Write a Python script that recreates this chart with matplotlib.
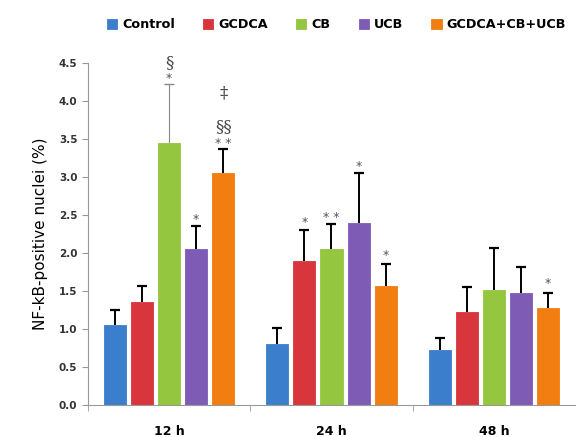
import numpy as np
import matplotlib
matplotlib.use("Agg")
import matplotlib.pyplot as plt

grupos = ["12 h", "24 h", "48 h"]
series = ["Control", "GCDCA", "CB", "UCB", "GCDCA+CB+UCB"]
cores = ["#3b7fcc", "#d8353d", "#94c640", "#7e5cb6", "#f27d10"]

# medias por serie (12h, 24h, 48h)
medias = [
    [1.05, 0.80, 0.72],
    [1.35, 1.90, 1.22],
    [3.45, 2.05, 1.52],
    [2.05, 2.40, 1.48],
    [3.05, 1.57, 1.28],
]
# erro (so para cima)
erros = [
    [0.20, 0.22, 0.16],
    [0.22, 0.40, 0.33],
    [0.77, 0.33, 0.54],
    [0.30, 0.65, 0.34],
    [0.32, 0.28, 0.20],
]
# marcas de significancia: (serie, grupo, texto, altura)
marcas = [
    (2, 0, "*", 4.29), (2, 0, "§", 4.51),
    (3, 0, "*", 2.44),
    (4, 0, "* *", 3.44), (4, 0, "§§", 3.66), (4, 0, "‡", 4.10),
    (1, 1, "*", 2.40), (2, 1, "* *", 2.47), (3, 1, "*", 3.14), (4, 1, "*", 1.97),
    (4, 2, "*", 1.60),
]

fig = plt.figure(figsize=(5.78, 4.37), dpi=100)
ax = fig.add_axes([0.152, 0.073, 0.843, 0.783])

x = np.arange(len(grupos))
passo = 0.167
larg = 0.136
for i, s in enumerate(series):
    pos = x + (i - 2) * passo
    topo = np.array(medias[i]) + np.array(erros[i])
    ax.bar(pos, medias[i], width=larg, color=cores[i], edgecolor=cores[i],
           linewidth=0.6, label=s, zorder=2)
    cor_erro = ["#888888" if (i == 2 and g == 0) else "black" for g in range(3)]
    larg_erro = [0.8 if (i == 2 and g == 0) else 1.4 for g in range(3)]
    ax.vlines(pos, medias[i], topo, colors=cor_erro, linewidths=larg_erro, zorder=1)
    for g in range(3):
        ax.plot(pos[g], topo[g], marker="_", markersize=7, mew=1.6 if cor_erro[g] == "black" else 1.0,
                color=cor_erro[g], zorder=3)

for i, g, txt, h in marcas:
    xp = x[g] + (i - 2) * passo
    if "*" in txt:
        ax.text(xp, h, txt, ha="center", va="center", fontsize=9, color="#555555",
                clip_on=False)
    else:
        ax.text(xp, h, txt, ha="center", va="center", fontsize=12, color="#444444",
                family="DejaVu Serif", clip_on=False)

ax.set_xlim(-0.5, 2.5)
ax.set_ylim(0, 4.5)
ax.set_yticks(np.arange(0, 4.51, 0.5))
ax.set_yticklabels([f"{v:.1f}" for v in np.arange(0, 4.51, 0.5)],
                   fontsize=7.5, fontweight="bold", color="#333333")
ax.set_xticks(x)
ax.set_xticklabels(grupos, fontsize=9, fontweight="bold")
ax.tick_params(axis="x", length=0, pad=14)
ax.set_xticks([-0.5, 0.5, 1.5], minor=True)
ax.tick_params(axis="x", which="minor", length=4, color="#999999")
ax.tick_params(axis="y", length=4, color="#999999")
ax.set_ylabel("NF-kB-positive nuclei (%)", fontsize=11, labelpad=8)
for lado in ["top", "right"]:
    ax.spines[lado].set_visible(False)
ax.spines["left"].set_color("#999999")
ax.spines["bottom"].set_color("#999999")

leg = fig.legend(loc="upper center", bbox_to_anchor=(0.582, 0.985), ncol=5,
                 frameon=False, handlelength=0.8, handleheight=0.8,
                 handletextpad=0.4, columnspacing=2.2,
                 prop={"size": 9.2, "weight": "bold"})

fig.savefig("out.png", dpi=100)
